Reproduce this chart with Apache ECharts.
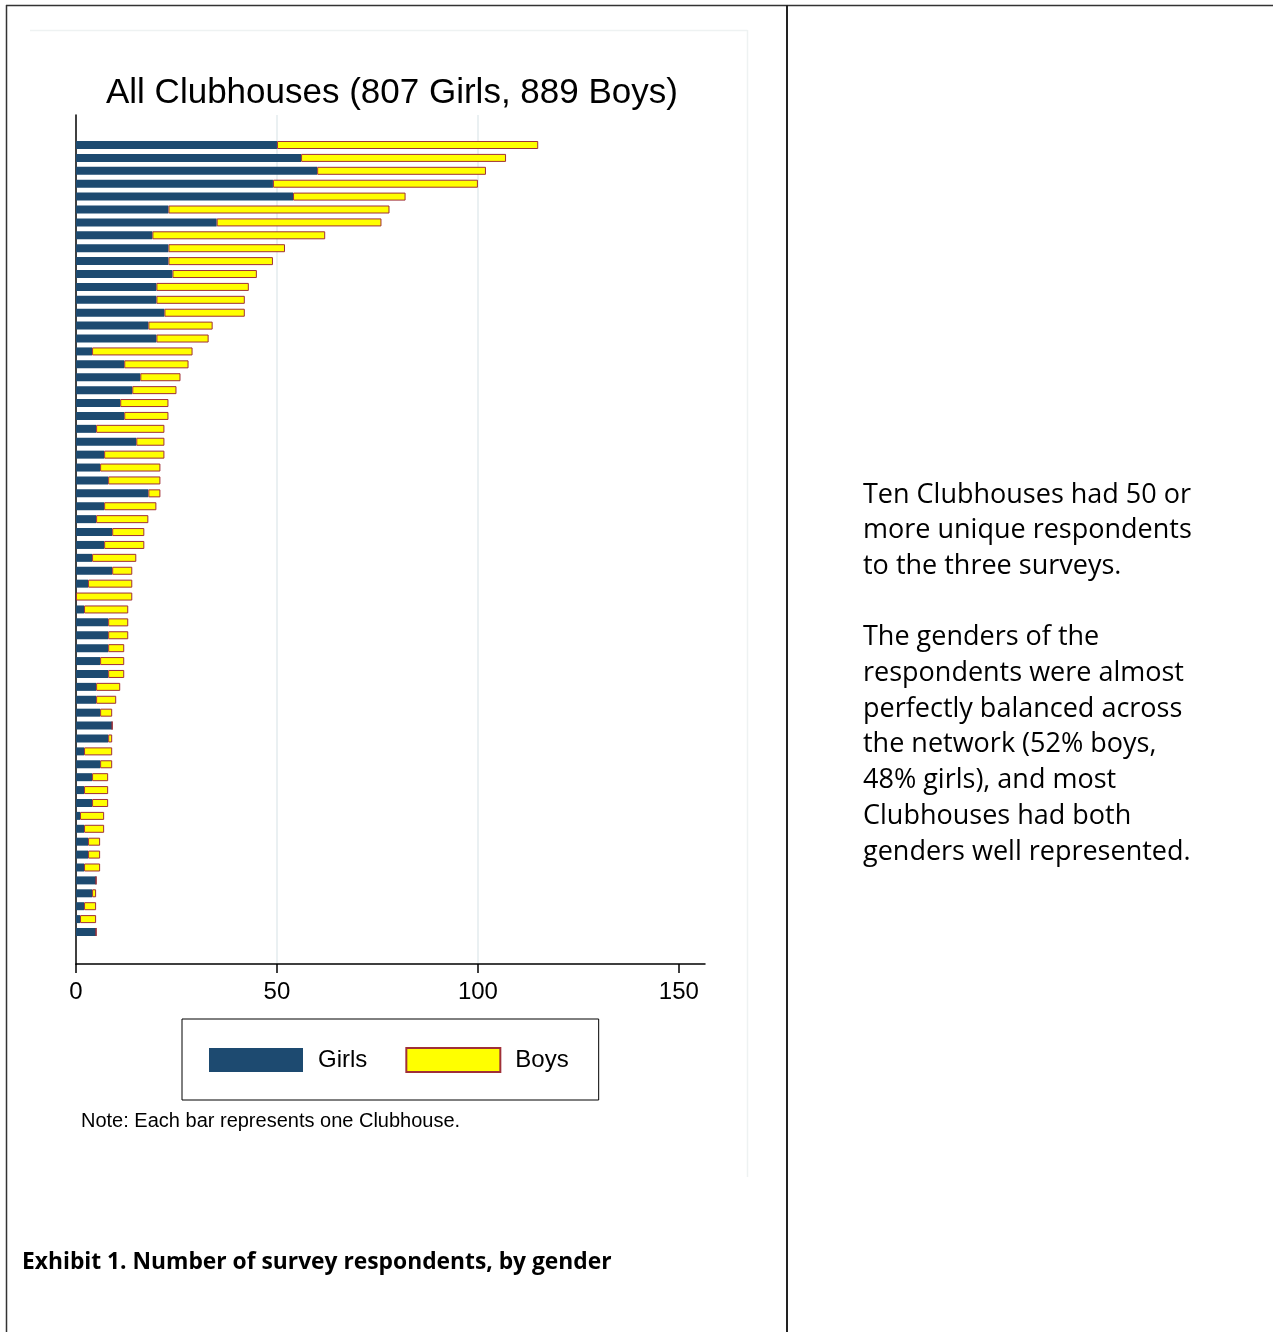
<!DOCTYPE html>
<html><head><meta charset="utf-8">
<script src="https://cdn.jsdelivr.net/npm/echarts@6/dist/echarts.min.js"></script>
<style>html,body{margin:0;padding:0;background:#fff}#c{width:1273px;height:1332px}</style>
</head><body><div id="c"></div><script>
// One bar per Clubhouse (sorted by total respondents)
const clubhouses = ['1','2','3','4','5','6','7','8','9','10','11','12','13','14','15','16','17','18','19','20',
  '21','22','23','24','25','26','27','28','29','30','31','32','33','34','35','36','37','38','39','40',
  '41','42','43','44','45','46','47','48','49','50','51','52','53','54','55','56','57','58','59','60','61','62'];
const girls = [50,56,60,49,54,23,35,19,23,23, 24,20,20,22,18,20,4,12,16,14,
  11,12,5,15,7,6,8,18,7,5, 9,7,4,9,3,0,2,8,8,8, 6,8,5,5,6,9,8,2,6,4, 2,4,1,2,3,3,2,5,4,2,1,5];
const boys = [65,51,42,51,28,55,41,43,29,26, 21,23,22,20,16,13,25,16,10,11,
  12,11,17,7,15,15,13,3,13,13, 8,10,11,5,11,14,11,5,5,4, 6,4,6,5,3,0,1,7,3,4, 6,4,6,5,3,3,4,0,1,3,4,0];
const xTickValues = [0, 50, 100, 150];
const gridLineValues = [50, 100];
const xMax = 156.5;

const chart = echarts.init(document.getElementById('c'), null, {renderer: 'canvas'});
const AX = 'Liberation Sans, Arial, sans-serif';
const MY = 'Open Sans, Noto Sans, sans-serif';

chart.setOption({
  animation: false,
  backgroundColor: '#fff',
  title: {
    text: 'All Clubhouses (807 Girls, 889 Boys)',
    left: 101, top: 71,
    textStyle: {fontFamily: AX, fontSize: 35, fontWeight: 'normal', color: '#000'}
  },
  legend: {
    data: ['Girls', 'Boys'],
    left: 182, top: 1019,
    orient: 'horizontal',
    padding: [28, 30, 27, 27],
    borderColor: '#000', borderWidth: 1,
    itemWidth: 94, itemHeight: 24, itemGap: 38,
    icon: 'rect',
    textStyle: {fontFamily: AX, fontSize: 24, color: '#000', padding: [0, 0, 0, 10]}
  },
  grid: [
    {left: 76, right: 568, top: 115, bottom: 368},
    {left: 76, right: 568, top: 138.55, bottom: 393.55}
  ],
  xAxis: [
    {
      type: 'value', gridIndex: 0, min: 0, max: xMax,
      axisLine: {show: true, lineStyle: {color: '#000', width: 1.5}},
      axisTick: {show: true, length: 9, customValues: xTickValues, lineStyle: {color: '#000', width: 1.5}},
      axisLabel: {customValues: xTickValues, fontFamily: AX, fontSize: 24, color: '#000', margin: 16},
      splitLine: {show: false}
    },
    {
      type: 'value', gridIndex: 1, min: 0, max: xMax, show: false,
      splitLine: {show: false}
    }
  ],
  yAxis: [
    {
      type: 'value', gridIndex: 0, min: 0, max: 1,
      axisLine: {show: true, lineStyle: {color: '#000', width: 1.5}},
      axisTick: {show: false}, axisLabel: {show: false}, splitLine: {show: false}
    },
    {
      type: 'category', gridIndex: 1, data: clubhouses, inverse: true, show: false
    }
  ],
  series: [
    {
      name: 'grid', type: 'line', xAxisIndex: 0, yAxisIndex: 0, data: [], z: 0,
      markLine: {
        z: 0, zlevel: 0,
        silent: true, symbol: 'none', label: {show: false},
        lineStyle: {color: '#e3ebee', width: 1.5, type: 'solid'},
        data: gridLineValues.map(v => ({xAxis: v}))
      }
    },
    {
      name: 'Girls', type: 'bar', stack: 'total', xAxisIndex: 1, yAxisIndex: 1,
      barWidth: 8, data: girls, z: 6,
      itemStyle: {color: '#1d4a70'}
    },
    {
      name: 'Boys', type: 'bar', stack: 'total', xAxisIndex: 1, yAxisIndex: 1,
      barWidth: 8, data: boys, z: 6,
      itemStyle: {color: '#ffff00', borderColor: '#a03038', borderWidth: 1}
    }
  ],
  graphic: [
    // page frame
    {type: 'line', shape: {x1: 6, y1: 5.5, x2: 1273, y2: 5.5}, style: {stroke: '#333', lineWidth: 1.5}},
    {type: 'line', shape: {x1: 6.5, y1: 5, x2: 6.5, y2: 1332}, style: {stroke: '#333', lineWidth: 1.5}},
    {type: 'line', shape: {x1: 787, y1: 5, x2: 787, y2: 1332}, style: {stroke: '#222', lineWidth: 2}},
    // faint chart panel edge
    {type: 'line', shape: {x1: 30, y1: 30.5, x2: 747.5, y2: 30.5}, style: {stroke: '#eef2f2', lineWidth: 1.5}},
    {type: 'line', shape: {x1: 747.5, y1: 30, x2: 747.5, y2: 1177}, style: {stroke: '#eef2f2', lineWidth: 1.5}},
    {
      type: 'text', left: 81, top: 1111,
      style: {text: 'Note: Each bar represents one Clubhouse.', font: '20px ' + AX, fill: '#000'}
    },
    {
      type: 'text', left: 22, top: 1251,
      style: {text: 'Exhibit 1. Number of survey respondents, by gender', font: 'bold 22.8px ' + MY, fill: '#000'}
    },
    {
      type: 'text', left: 863, top: 477,
      style: {
        text: 'Ten Clubhouses had 50 or\nmore unique respondents\nto the three surveys.\n\nThe genders of the\nrespondents were almost\nperfectly balanced across\nthe network (52% boys,\n48% girls), and most\nClubhouses had both\ngenders well represented.',
        font: '27px ' + MY, lineHeight: 35.7, fill: '#000'
      }
    }
  ]
});
</script></body></html>
